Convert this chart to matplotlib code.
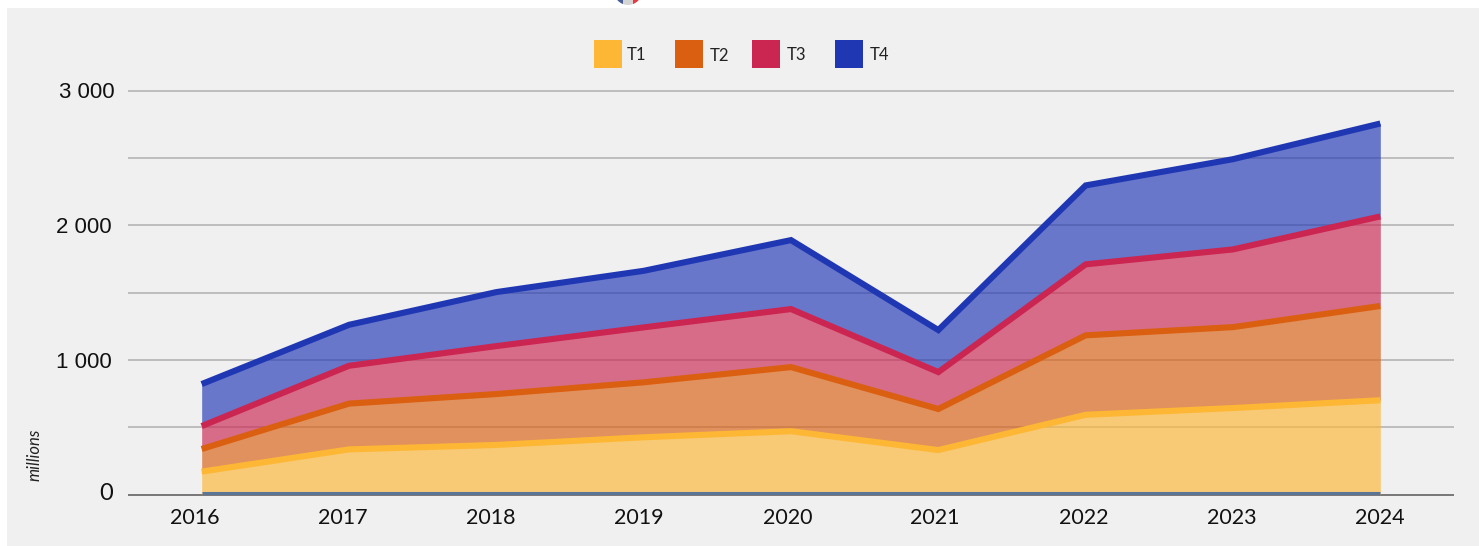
import matplotlib
matplotlib.use('Agg')
import matplotlib.pyplot as plt
from matplotlib.patches import Rectangle, Circle
import numpy as np

W, H = 1479, 546

years = [2016, 2017, 2018, 2019, 2020, 2021, 2022, 2023, 2024]
t1 = [170, 335, 368, 425, 470, 330, 592, 642, 700]
t2 = [168, 340, 378, 408, 476, 305, 590, 601, 700]
t3 = [170, 281, 356, 408, 431, 274, 527, 577, 665]
t4 = [312, 304, 401, 420, 512, 312, 586, 670, 690]
names = ['T1', 'T2', 'T3', 'T4']
colors = ['#FDB734', '#DA5F10', '#CB2552', '#2037B4']
y_ticks = [0, 1000, 2000, 3000]
y_labels = ['0', '1 000', '2 000', '3 000']

plt.rcParams['font.family'] = ['Lato', 'DejaVu Sans']

fig = plt.figure(figsize=(W / 100, H / 100), dpi=100, facecolor='white')

def fx(px):
    return px / W

def fy(py):
    return 1 - py / H

# grey panel behind everything
fig.add_artist(Rectangle((fx(7), 0), 1 - fx(7), fy(8), transform=fig.transFigure,
                         facecolor='#F0F0F0', edgecolor='none', zorder=-5))

# bit of the flag button cut by the top of the crop
flag = fig.add_axes([fx(612), fy(6), 32 / W, 6 / H])
flag.set_xlim(612, 644)
flag.set_ylim(6, 0)
flag.axis('off')
clip = Circle((628, -9), 14, transform=flag.transData)
for x0, w, c in [(612, 11, '#4A5C94'), (623, 10, '#D5D5D5'), (633, 11, '#E8383D')]:
    r = flag.add_patch(Rectangle((x0, 0), w, 6, facecolor=c, edgecolor='none'))
    r.set_clip_path(clip)

ax = fig.add_axes([fx(128), fy(494.5), (1454 - 128) / W, (494.5 - 90.5) / H])
ax.set_facecolor('none')
ax.set_xlim(-0.5, 8.5)
ax.set_ylim(0, 3000)

x = np.arange(len(years))
for v in [500, 1000, 1500, 2000, 2500, 3000]:
    ax.axhline(v, color='#B4B4B4', lw=1.2, zorder=1, clip_on=False, solid_capstyle='butt')
ax.axhline(0, color='#777777', lw=1.4, zorder=1, clip_on=False, solid_capstyle='butt')

series = [t1, t2, t3, t4]
bottom = np.zeros(len(years))
for vals, c in zip(series, colors):
    top = bottom + np.array(vals)
    ax.fill_between(x, bottom, top, color=c, alpha=0.65, lw=0, zorder=2)
    ax.plot(x, top, color=c, lw=4.4, solid_capstyle='butt', solid_joinstyle='miter', zorder=3)
    bottom = top

# bluish strip along the baseline
ax.plot(x, np.full(len(years), 8), color='#5B7598', lw=2.2, solid_capstyle='butt', zorder=3)

for side in ax.spines.values():
    side.set_visible(False)
ax.set_xticks([])
ax.set_yticks([])

# tick labels sit a little off the points in the reference
xlabel_px = [195, 343, 491, 639, 788, 935, 1084, 1232, 1380]
for yr, px in zip(years, xlabel_px):
    fig.text(fx(px), fy(518), str(yr), fontsize=15.5, color='#111111', ha='center', va='center')

ylabel_right = [113, 112, 112, 115]
ylabel_y = [494, 362, 227, 92]
ylabel_font = ['Lato', 'Liberation Sans', 'Liberation Sans', 'Liberation Sans']
ylabel_size = [17, 16, 16, 16]
for lab, rx, py, fam, sz in zip(y_labels, ylabel_right, ylabel_y, ylabel_font, ylabel_size):
    fig.text(fx(rx), fy(py), lab, family=fam, fontsize=sz, color='#111111', ha='right', va='center')

fig.text(fx(34.5), fy(455), 'millions', rotation=90, style='italic', fontsize=12,
         color='#222222', ha='center', va='center')

# legend
swatch_x = [594, 675, 752, 835]
label_x = [627, 710, 787, 870]
label_y = [55, 56, 55, 55]
for name, c, sx, lx, ly in zip(names, colors, swatch_x, label_x, label_y):
    fig.add_artist(Rectangle((fx(sx), fy(68)), 28 / W, 28 / H, transform=fig.transFigure,
                             facecolor=c, edgecolor='none'))
    fig.text(fx(lx), fy(ly), name, fontsize=12, color='#222222', ha='left', va='center')

fig.savefig('out.png', dpi=100, facecolor=fig.get_facecolor())
